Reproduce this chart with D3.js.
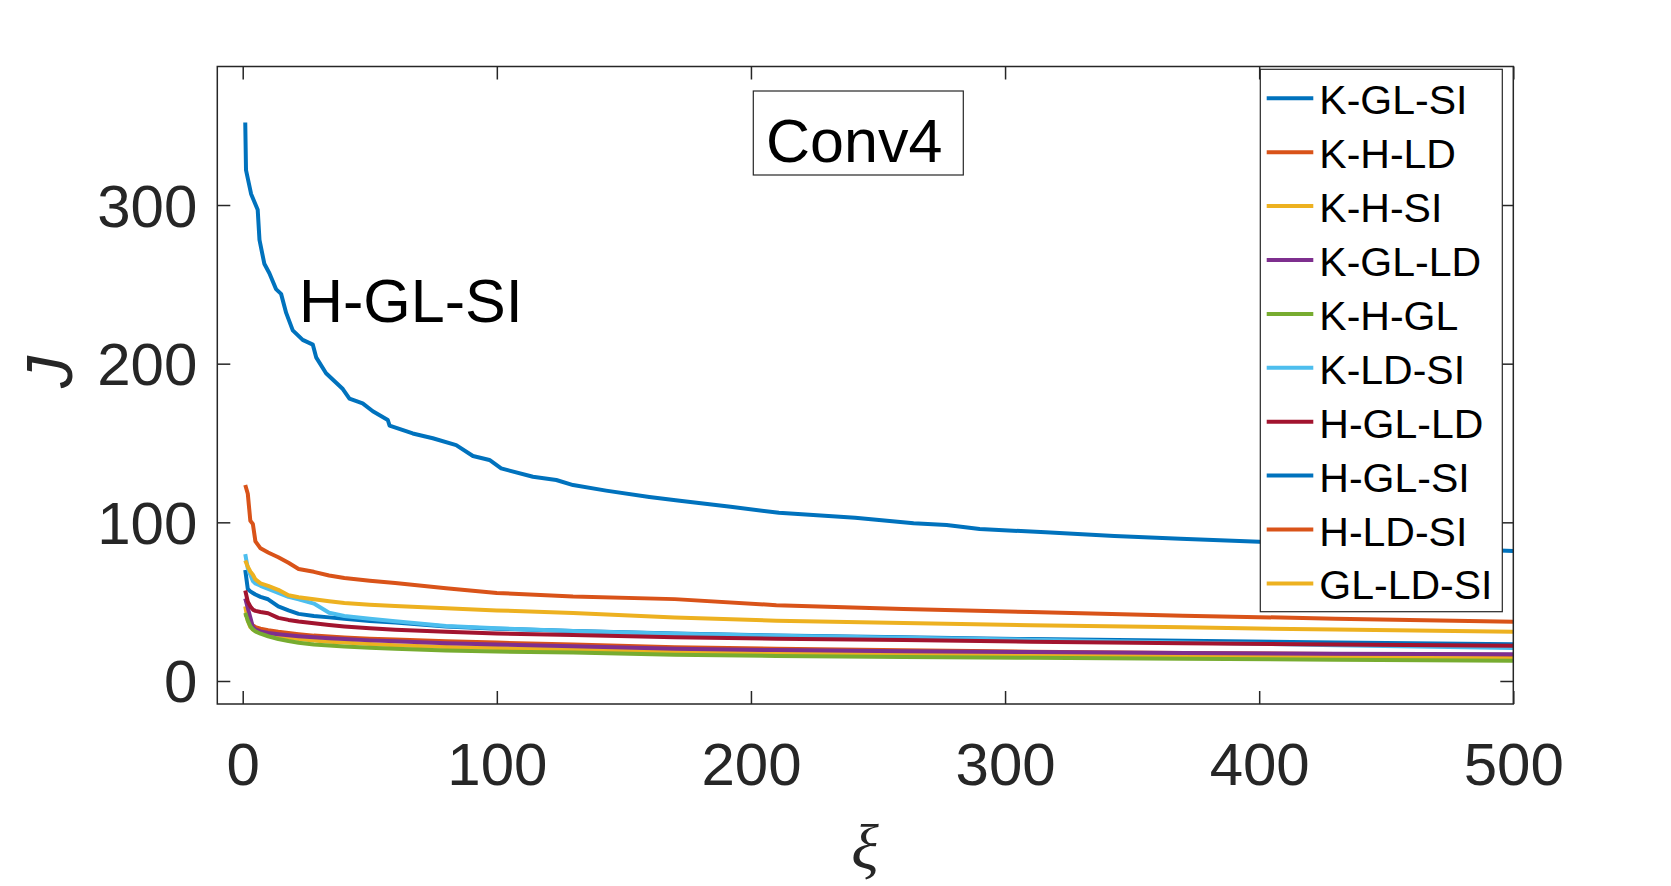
<!DOCTYPE html>
<html>
<head>
<meta charset="utf-8">
<script src="https://cdn.jsdelivr.net/npm/d3@7"></script>
<style>
  body { margin: 0; background: #fff; }
  svg { display: block; }
  text { font-family: "Liberation Sans", Arial, Helvetica, sans-serif; }
</style>
</head>
<body>
<svg id="chart" width="1671" height="886"></svg>
<script>
// legend order = drawing order
const seriesNames = ['K-GL-SI', 'K-H-LD', 'K-H-SI', 'K-GL-LD', 'K-H-GL',
  'K-LD-SI', 'H-GL-LD', 'H-GL-SI', 'H-LD-SI', 'GL-LD-SI'];

// shared iteration grid for the nine lower curves
const xs = [1, 2, 3, 4, 5, 7, 10, 14, 18, 22, 28, 34, 40, 50, 60, 80, 100,
  130, 170, 210, 260, 310, 370, 430, 500];

const kGlSi = [70, 58, 56.5, 55.5, 54.5, 53, 51.5, 47, 44.5, 42.3, 41, 40.1, 39.2,
  37.8, 36.8, 34.3, 33, 31.5, 30, 28.7, 27.5, 26.4, 25.4, 24.3, 23.2];
const kHLd = [42, 40, 37, 35, 34, 33, 32, 31, 30.2, 29.5, 28.6, 28, 27.4,
  26.7, 26.1, 25, 24.2, 23, 21.3, 20.3, 19.3, 18.5, 17.7, 17, 16.4];
const kHSi = [47, 38, 34, 32.5, 31.5, 30.5, 29.5, 28.3, 27.3, 26.5, 25.5, 24.8, 24.2,
  23.3, 22.6, 21.5, 20.8, 19.8, 18.5, 17.6, 16.8, 16.1, 15.4, 14.8, 14.2];
const kGlLd = [52, 46, 40, 34, 32.5, 31.3, 30.3, 29.5, 28.8, 28.2, 27.5, 27, 26.4,
  25.6, 25, 23.8, 23, 21.9, 20.3, 19.5, 18.8, 18.2, 17.6, 17.2, 16.8];
const kHGl = [43, 38, 34.5, 32.5, 31.3, 29.8, 28.2, 26.5, 25.2, 24.1, 23, 22.3, 21.7,
  21, 20.4, 19.2, 18.6, 17.9, 16.5, 15.8, 15.2, 14.6, 14, 13.4, 12.8];
const kLdSi = [80, 71, 67, 63, 61.5, 60, 58, 55.5, 53, 51.5, 48.8, 43, 41,
  39.2, 37.6, 34.7, 33.2, 31.5, 29.7, 28.5, 27.2, 26, 24.3, 22.6, 20.8];
const hGlLd = [57, 50, 47, 45, 44.2, 43.5, 42.7, 39.8, 38.5, 37.5, 36.4, 35.3, 34.4,
  33.2, 32.3, 31, 30, 29, 27.6, 26.7, 25.8, 24.8, 23.8, 23, 22.2];
const hLdSi = [123.5, 118, 101, 99, 88, 83.6, 81, 78, 74.5, 70.6, 68.8, 66.5, 64.9,
  63.2, 61.8, 58.5, 55.5, 53.2, 51.6, 47.8, 45.3, 43.5, 41.2, 39.3, 37.4];
const glLdSi = [76, 72, 69, 67, 64, 61.5, 60, 57.5, 54, 52.8, 51.5, 50.2, 49.1,
  48, 47.2, 45.8, 44.5, 42.8, 40, 38, 36.6, 35.2, 33.8, 32.4, 31.1];

// the top curve is stepped, so it has its own finer grid
const hGlSiXs = [1, 1.3, 3.3, 5.9, 6.6, 8.5, 10.5, 13.1, 15.1, 17.1, 19.7, 23.6, 27.6,
  28.9, 32.8, 39.4, 42, 47.2, 51.2, 57.1, 57.8, 66.9, 74.8, 84, 90.6, 97.1, 101.7,
  114.2, 123.4, 130, 143, 160, 172, 192, 211, 241, 264, 277, 290, 316, 343, 369,
  400, 450, 500];
const hGlSi = [352, 322, 307, 297, 278, 263, 257, 247, 244, 232, 221, 215, 212,
  204, 194, 184, 178, 175, 170, 164.5, 161, 156, 153, 148.7, 141.8, 139.3, 134,
  128.7, 126.7, 123.5, 120, 116, 113.6, 109.8, 106, 102.9, 99.4, 98.3, 95.8, 93.7,
  91.4, 89.7, 87.8, 84.8, 82];

const seriesValues = [kGlSi, kHLd, kHSi, kGlLd, kHGl, kLdSi, hGlLd, hGlSi, hLdSi, glLdSi];
const seriesXs = seriesValues.map(v => v === hGlSi ? hGlSiXs : xs);

const xTicks = [0, 100, 200, 300, 400, 500];
const yTicks = [0, 100, 200, 300];

// MATLAB default colour order
const colors = ['#0072BD', '#D95319', '#EDB120', '#7E2F8E', '#77AC30',
  '#4DBEEE', '#A2142F', '#0072BD', '#D95319', '#EDB120'];

const axisColor = '#262626';
const plot = { left: 217.3, right: 1513.3, top: 66.5, bottom: 704 };

const svg = d3.select('#chart');

const x = d3.scaleLinear().domain([-10, 500]).range([plot.left, plot.right]);
const y = d3.scaleLinear().domain([-14.5, 387.3]).range([plot.bottom, plot.top]);

// curves, clipped to the axes box
svg.append('clipPath').attr('id', 'clip')
  .append('rect')
  .attr('x', plot.left).attr('y', plot.top)
  .attr('width', plot.right - plot.left).attr('height', plot.bottom - plot.top);

const line = d3.line()
  .x(d => x(d[0]))
  .y(d => y(d[1]));

svg.append('g').attr('clip-path', 'url(#clip)')
  .selectAll('path')
  .data(seriesValues.map((vals, i) => ({
    color: colors[i],
    pts: vals.map((v, j) => [seriesXs[i][j], v])
  })))
  .join('path')
  .attr('d', d => line(d.pts))
  .attr('fill', 'none')
  .attr('stroke', d => d.color)
  .attr('stroke-width', 4)
  .attr('stroke-linejoin', 'round');

// axes: ticks inward on all four sides
const tickLen = 13;
const styleAxis = g => {
  g.select('.domain').remove();
  g.selectAll('.tick line').attr('stroke', axisColor).attr('stroke-width', 1.5);
  g.selectAll('text')
    .attr('fill', axisColor)
    .style('font-size', '60px')
    .style('font-family', '"Liberation Sans", Arial, sans-serif');
};

svg.append('g')
  .attr('transform', `translate(0,${plot.bottom})`)
  .call(d3.axisBottom(x).tickValues(xTicks).tickSize(-tickLen).tickPadding(0).tickFormat(d3.format('d')))
  .call(styleAxis)
  .call(g => g.selectAll('text').attr('y', 81).attr('dy', null));

svg.append('g')
  .attr('transform', `translate(0,${plot.top})`)
  .call(d3.axisTop(x).tickValues(xTicks).tickSize(-tickLen).tickFormat(''))
  .call(styleAxis);

svg.append('g')
  .attr('transform', `translate(${plot.left},0)`)
  .call(d3.axisLeft(y).tickValues(yTicks).tickSize(-tickLen).tickFormat(d3.format('d')))
  .call(styleAxis)
  .call(g => g.selectAll('text').attr('x', -20).attr('dy', '0.35em'));

svg.append('g')
  .attr('transform', `translate(${plot.right},0)`)
  .call(d3.axisRight(y).tickValues(yTicks).tickSize(-tickLen).tickFormat(''))
  .call(styleAxis);

svg.append('rect')
  .attr('x', plot.left).attr('y', plot.top)
  .attr('width', plot.right - plot.left).attr('height', plot.bottom - plot.top)
  .attr('fill', 'none')
  .attr('stroke', axisColor)
  .attr('stroke-width', 1.5);

// axis labels
svg.append('text')
  .attr('x', 865).attr('y', 869)
  .attr('text-anchor', 'middle')
  .attr('fill', axisColor)
  .style('font-family', '"Liberation Serif", "Times New Roman", serif')
  .style('font-style', 'italic')
  .style('font-size', '64px')
  .text('ξ');

svg.append('text')
  .attr('transform', 'translate(72,372) rotate(-90)')
  .attr('text-anchor', 'middle')
  .attr('fill', axisColor)
  .style('font-style', 'italic')
  .style('font-size', '64px')
  .text('J');

// annotations
svg.append('rect')
  .attr('x', 753.3).attr('y', 91)
  .attr('width', 210).attr('height', 84)
  .attr('fill', '#fff')
  .attr('stroke', axisColor)
  .attr('stroke-width', 1.2);

svg.append('text')
  .attr('x', 766).attr('y', 161.5)
  .attr('fill', '#000')
  .style('font-size', '61px')
  .text('Conv4');

svg.append('text')
  .attr('x', 299).attr('y', 321.5)
  .attr('fill', '#000')
  .style('font-size', '61px')
  .text('H-GL-SI');

// legend
const legend = svg.append('g');
legend.append('rect')
  .attr('x', 1260.3).attr('y', 69.3)
  .attr('width', 242).attr('height', 542.4)
  .attr('fill', '#fff')
  .attr('stroke', axisColor)
  .attr('stroke-width', 1.2);

const items = legend.selectAll('g.item')
  .data(seriesNames)
  .join('g')
  .attr('class', 'item')
  .attr('transform', (d, i) => `translate(0,${98.3 + i * 53.9})`);

items.append('line')
  .attr('x1', 1266.7).attr('x2', 1313.3)
  .attr('stroke', (d, i) => colors[i])
  .attr('stroke-width', 4);

items.append('text')
  .attr('x', 1319.3).attr('y', 16)
  .attr('fill', '#000')
  .style('font-size', '41px')
  .text(d => d);
</script>
</body>
</html>
